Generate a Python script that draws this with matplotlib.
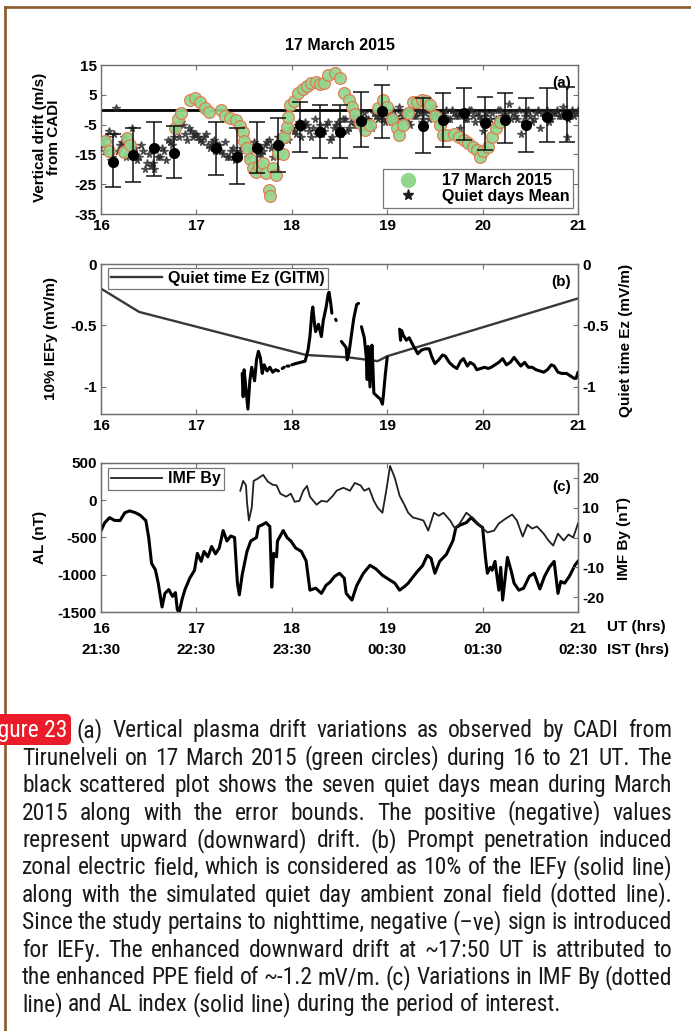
import numpy as np
import matplotlib
matplotlib.use("Agg")
import matplotlib.pyplot as plt
from matplotlib import font_manager
from matplotlib.font_manager import FontProperties
from matplotlib.patches import FancyBboxPatch
from matplotlib.lines import Line2D
from matplotlib.transforms import IdentityTransform, blended_transform_factory

# ---------------- data ----------------
hours = [16, 17, 18, 19, 20, 21]
ist_labels = ["21:30", "22:30", "23:30", "00:30", "01:30", "02:30"]

# (a) CADI vertical drift on 17 March 2015
storm_t = [16.04, 16.08, 16.24, 16.27, 16.30, 16.78, 16.81, 16.84, 16.93, 16.99,
           17.04, 17.09, 17.13, 17.26, 17.30, 17.35, 17.42, 17.46, 17.49, 17.50,
           17.53, 17.56, 17.59, 17.62, 17.66, 17.70, 17.73, 17.76, 17.77, 17.80,
           17.83, 17.86, 17.91, 17.92, 17.95, 17.96, 17.98, 18.02, 18.06, 18.12,
           18.16, 18.20, 18.25, 18.30, 18.34, 18.38, 18.45, 18.50, 18.55, 18.60,
           18.63, 18.66, 18.72, 18.77, 18.82, 18.90, 18.96, 19.00, 19.05, 19.10,
           19.12, 19.17, 19.22, 19.27, 19.31, 19.36, 19.41, 19.45, 19.50, 19.55,
           19.58, 19.63, 19.70, 19.75, 19.80, 19.85, 19.90, 19.94, 19.97, 20.00,
           20.06, 20.10, 20.14, 20.18]
storm_v = [-10.5, -13.8, -14.1, -9.6, -12.0, -6.2, -3.0, -1.0, 3.3, 3.9,
           2.6, 0.5, -0.8, -0.1, -2.0, -2.8, -3.5, -5.5, -7.5, -10.5,
           -13.0, -16.5, -19.5, -21.0, -19.0, -18.0, -21.2, -27.0, -28.8, -19.5,
           -21.8, -14.5, -15.0, -9.2, -5.8, -2.5, 1.5, 3.0, 5.6, 7.0,
           8.0, 9.0, 9.4, 8.5, 9.0, 11.6, 12.3, 10.5, 5.6, 3.3,
           1.0, -1.5, -4.5, -6.8, -5.0, 0.5, 3.3, 1.0, -3.0, -6.0,
           -8.5, -5.0, -1.0, 2.5, 2.6, 3.3, 3.0, 1.6, -2.0, -5.0,
           -8.5, -8.5, -8.0, -9.2, -10.0, -11.2, -12.5, -13.5, -15.9, -14.0,
           -12.5, -9.2, -6.1, -4.0]

# (a) quiet days mean drift (scatter): samples at 16.00, 16.04, ... 21.00
quiet_t = np.round(np.arange(16.0, 21.0001, 0.04), 2)
quiet_v = [-10, -14, -7, -16, 0.5, -12, -9, -15, -6, -13,
           -16, -14, -18, -19, -20, -16, -13, -17, -11, -9,
           -6, -4, -8, -6, -9, -8, -10, -9, -12, -11,
           -14, -12, -15, -16, -14, -17, -15, -13, -12, -14,
           -11, -13, -15, -12, -10, -16, -13, -9, -7, -10,
           -6, -8, -4, -6, -5, -9, -3, -7, -8, -5,
           -10, -6, -4, -8, -3, -6, -2, -5, -4, -1,
           -3, -6, -2, 0, -3, -1, -4, -2, 1, -3,
           -1, -5, -2, 0, -4, -1, -3, 1, -2, -5,
           -1, -3, 0, -2, -6, -1, -3, 0, -4, -2,
           -7, -1, -3, -5, 0, -2, -4, 2, -1, -3,
           -8, -2, 0, -4, -1, -6, -2, 0, -3, -1,
           -2, 1, -9, -1, -2, 0]
# interleaved samples at 16.02, 16.06, ... 20.98
quiet_t2 = np.round(np.arange(16.02, 20.99, 0.04), 2)
quiet_v2 = [-12, -9, -17, -8, -14, -11, -16, -13, -15, -17,
            -12, -20, -15, -18, -13, -16, -14, -10, -12, -7,
            -9, -5, -10, -7, -8,
            -9, -11, -8, -13, -10, -12, -14, -11, -16, -13,
            -15, -14, -12, -16, -13, -12, -15, -14, -11, -13,
            -12, -9, -11, -8, -6,
            -7, -5, -9, -4, -7, -6, -8, -5, -7, -4,
            -9, -5, -6, -3, -7, -4, -5, -2, -6, -3,
            -4, -1, -3, -2, -4,
            -2, 0, -3, -1, -2, -4, 0, -2, -1, -3,
            0, -2, -1, -4, -2, 0, -3, -1, -2, -1,
            -3, 0, -2, -1, -3,
            -2, -4, -1, -3, 0, -2, -1, -3, -2, 0,
            -4, -1, -2, -3, 0, -1, -2, -4, -1, 0,
            -2, -1, -3, 0, -1]

# (a) quiet days mean with error bounds
mean_t = [16.13, 16.34, 16.56, 16.77, 17.21, 17.43, 17.63, 17.86, 18.09, 18.30,
          18.50, 18.73, 18.95, 19.38, 19.58, 19.80, 20.03, 20.24, 20.46, 20.68, 20.88]
mean_v = [-17.6, -15.2, -12.9, -14.5, -12.9, -15.9, -12.9, -11.8, -5.1, -7.5,
          -7.5, -3.8, -0.5, -5.5, -3.5, -1.1, -4.5, -3.5, -5.1, -2.5, -1.8]
mean_lo = [-25.9, -24.3, -22.3, -22.9, -21.9, -24.9, -21.2, -20.9, -14.2, -16.2,
           -16.2, -12.5, -9.5, -14.5, -12.5, -10.2, -13.5, -11.2, -14.2, -10.9, -10.9]
mean_hi = [-8.2, -6.2, -4.1, -5.5, -4.1, -6.2, -4.1, -2.8, 2.6, 1.6,
           1.6, 5.8, 8.3, 3.9, 5.6, 7.3, 4.3, 5.6, 3.9, 7.3, 7.6]

# (b) quiet time Ez from GITM
ez_t = [16.0, 16.4, 18.15, 18.6, 18.9, 19.0, 21.0]
ez_v = [-0.20, -0.39, -0.74, -0.76, -0.79, -0.75, -0.28]

# (b) 10% IEFy (nan marks data gaps)
nan = np.nan
ief_t = [17.48, 17.49, 17.50, 17.52, 17.54, 17.56, 17.58, 17.61, 17.63, 17.65,
         17.67, 17.69, 17.71, 17.74, 17.77, 17.80, 17.83, 17.86, 17.87,
         17.90, 17.92, 17.93, 17.95, 17.97, 17.98,
         18.00, 18.04, 18.09, 18.14, 18.17, 18.19, 18.21, 18.22, 18.24, 18.25,
         18.28, 18.31, 18.33, 18.36, 18.38, 18.39, 18.41, 18.42, 18.44,
         18.46, 18.465, 18.47,
         18.52, 18.55, 18.57, 18.58, 18.60, 18.63, 18.65, 18.68, 18.70, 18.71,
         18.73, 18.76, 18.78, 18.79, 18.80, 18.82, 18.84, 18.85, 18.86, 18.90,
         18.93, 18.95, 18.96, 18.98, 19.00, 19.05,
         19.13, 19.14, 19.15, 19.17, 19.20, 19.23, 19.27, 19.30, 19.32, 19.36,
         19.40, 19.44, 19.47, 19.50, 19.54, 19.58, 19.61, 19.65, 19.69, 19.73,
         19.77, 19.80, 19.84, 19.87, 19.91, 19.94, 19.98, 20.02, 20.06, 20.09,
         20.13, 20.17, 20.21, 20.25, 20.29, 20.33, 20.36, 20.40, 20.44, 20.48,
         20.52, 20.56, 20.60, 20.64, 20.68, 20.72, 20.75, 20.79, 20.83, 20.88,
         20.92, 20.96, 20.98, 21.00]
ief_v = [-0.89, -1.08, -0.86, -1.02, -1.18, -0.95, -0.84, -0.95, -0.78, -0.71,
         -0.76, -0.89, -0.82, -0.87, -0.84, -0.88, -0.86, -0.87, nan,
         -0.85, -0.84, nan, -0.83, -0.83, nan,
         -0.82, -0.81, -0.80, -0.79, -0.70, -0.59, -0.40, -0.35, -0.50, -0.55,
         -0.49, -0.59, -0.46, -0.35, -0.25, -0.23, -0.33, -0.40, nan,
         -0.45, -0.46, nan,
         -0.63, -0.66, -0.68, -0.78, -0.72, -0.55, -0.44, -0.33, -0.32, nan,
         -0.51, -0.60, -0.75, -0.94, -0.67, -1.00, -0.66, -0.83, -1.05, -1.08,
         -1.10, -1.14, -1.07, -0.90, -0.76, nan,
         -0.53, -0.62, -0.54, -0.58, -0.62, -0.60, -0.66, -0.70, -0.73, -0.70,
         -0.69, -0.69, -0.76, -0.81, -0.78, -0.74, -0.75, -0.80, -0.83, -0.85,
         -0.79, -0.77, -0.83, -0.80, -0.82, -0.86, -0.85, -0.84, -0.85, -0.84,
         -0.82, -0.80, -0.77, -0.82, -0.80, -0.76, -0.79, -0.83, -0.80, -0.84,
         -0.84, -0.86, -0.87, -0.88, -0.86, -0.82, -0.83, -0.88, -0.89, -0.89,
         -0.91, -0.93, -0.93, -0.88]

# (c) AL index
al_t = [16.00, 16.04, 16.09, 16.14, 16.20, 16.25, 16.30, 16.36, 16.41, 16.47,
        16.50, 16.53, 16.57, 16.60, 16.64, 16.67, 16.71, 16.75, 16.78, 16.80,
        16.82, 16.85, 16.88, 16.93, 16.98, 17.01, 17.05, 17.08, 17.12, 17.16,
        17.20, 17.24, 17.28, 17.32, 17.36, 17.40, 17.43, 17.45, 17.48, 17.53,
        17.57, 17.63, 17.65, 17.69, 17.73, 17.77, 17.79, 17.81, 17.84, 17.85,
        17.91, 17.95, 17.99, 18.04, 18.10, 18.15, 18.19, 18.25, 18.31, 18.36,
        18.40, 18.45, 18.50, 18.55, 18.57, 18.63, 18.68, 18.75, 18.82, 18.88,
        18.95, 19.03, 19.08, 19.13, 19.18, 19.22, 19.27, 19.32, 19.37, 19.42,
        19.46, 19.50, 19.55, 19.62, 19.69, 19.72, 19.77, 19.83, 19.88, 19.95,
        20.00, 20.03, 20.05, 20.08, 20.10, 20.13, 20.17, 20.19, 20.21, 20.26,
        20.30, 20.33, 20.38, 20.43, 20.49, 20.54, 20.60, 20.65, 20.70, 20.75,
        20.79, 20.82, 20.86, 20.91, 20.97, 21.00]
al_v = [-407, -300, -233, -270, -273, -167, -143, -167, -200, -273,
        -500, -847, -933, -1113, -1433, -1250, -1200, -1290, -1240, -1470,
        -1500, -1330, -1200, -1047, -940, -713, -820, -687, -760, -620,
        -720, -640, -407, -547, -480, -500, -1113, -1270, -1000, -687,
        -547, -500, -353, -330, -300, -353, -1167, -713, -760, -547,
        -407, -500, -547, -640, -687, -813, -1207, -1180, -1250, -1140,
        -1100, -1020, -980, -1047, -1250, -1340, -1147, -980, -873, -920,
        -1007, -1073, -1113, -1207, -1160, -1113, -1030, -950, -880, -740,
        -780, -980, -820, -727, -540, -367, -330, -300, -233, -320,
        -367, -767, -980, -900, -940, -820, -1207, -900, -1340, -767,
        -950, -1113, -1207, -1180, -1020, -980, -1190, -1020, -900, -820,
        -1250, -1090, -1113, -1020, -867, -820]

# (c) IMF By
by_t = [17.46, 17.49, 17.52, 17.53, 17.55, 17.58, 17.60, 17.64, 17.70, 17.75,
        17.80, 17.84, 17.88, 17.94, 17.99, 18.03, 18.08, 18.12, 18.16, 18.19,
        18.26, 18.31, 18.37, 18.43, 18.47, 18.54, 18.61, 18.66, 18.72, 18.76,
        18.81, 18.86, 18.90, 18.95, 18.99, 19.03, 19.08, 19.13, 19.18, 19.22,
        19.27, 19.32, 19.38, 19.43, 19.49, 19.54, 19.59, 19.66, 19.71, 19.76,
        19.83, 19.90, 19.98, 20.05, 20.12, 20.17, 20.24, 20.31, 20.36, 20.42,
        20.47, 20.52, 20.57, 20.64, 20.69, 20.74, 20.79, 20.85, 20.90, 20.95,
        21.00]
by_v = [15.7, 19.0, 17.5, 12.0, 5.7, 10.0, 19.0, 19.7, 21.0, 18.7,
        17.7, 17.5, 14.7, 13.7, 14.7, 12.0, 12.3, 15.7, 17.3, 13.7,
        11.0, 12.3, 12.0, 14.0, 15.7, 16.7, 15.7, 18.3, 17.5, 15.7,
        16.5, 12.3, 10.0, 8.3, 15.7, 24.0, 20.0, 14.0, 11.0, 8.3,
        6.7, 6.3, 5.7, 2.3, 8.3, 7.3, 8.3, 5.7, 3.0, 4.7,
        8.3, 6.5, 3.7, 1.7, 2.3, 4.7, 6.3, 7.7, 5.7, 0.3,
        4.3, 3.0, 3.7, 1.3, -1.0, -2.7, 1.3, -1.0, 1.0, 0.0,
        4.7]

caption_lines = [
    "(a) Vertical plasma drift variations as observed by CADI from",
    "Tirunelveli on 17 March 2015 (green circles) during 16 to 21 UT. The",
    "black scattered plot shows the seven quiet days mean during March",
    "2015 along with the error bounds. The positive (negative) values",
    "represent upward (downward) drift. (b) Prompt penetration induced",
    "zonal electric field, which is considered as 10% of the IEFy (solid line)",
    "along with the simulated quiet day ambient zonal field (dotted line).",
    "Since the study pertains to nighttime, negative (\u2013ve) sign is introduced",
    "for IEFy. The enhanced downward drift at ~17:50 UT is attributed to",
    "the enhanced PPE field of ~-1.2 mV/m. (c) Variations in IMF By (dotted",
    "line) and AL index (solid line) during the period of interest.",
]
figure_tag = "Figure 23"

# ---------------- style ----------------
W, H = 691, 1031
plt.rcParams["font.family"] = ["Liberation Sans", "DejaVu Sans"]
plt.rcParams["font.weight"] = "bold"
plt.rcParams["axes.unicode_minus"] = False
FRAME = "#707070"
TICK_FS = 11
LAB_FS = 11
LEG_FS = 11.5

fig = plt.figure(figsize=(W / 100, H / 100), dpi=100, facecolor="white")


def rect(l, t, r, b):
    return [l / W, 1 - b / H, (r - l) / W, (b - t) / H]


def style_axes(ax, right=True, xpad=4):
    for s in ax.spines.values():
        s.set_color(FRAME)
        s.set_linewidth(1.0)
    ax.tick_params(direction="in", length=3.5, width=0.8, color=FRAME,
                   labelsize=TICK_FS, pad=3, top=True, right=right)
    ax.tick_params(axis="x", pad=xpad)
    ax.set_xlim(16, 21)
    ax.set_xticks(hours)


def style_twin(ax):
    for s in ax.spines.values():
        s.set_color(FRAME)
    ax.tick_params(direction="in", length=3.5, width=0.8, color=FRAME,
                   labelsize=TICK_FS, pad=3)


def ftext(x, y, s, **kw):
    return fig.text(x / W, 1 - y / H, s, **kw)


# ---------------- panel (a) ----------------
ax1 = fig.add_axes(rect(101, 65, 578, 214))
style_axes(ax1, xpad=3.5)
ax1.set_ylim(-35, 15)
ax1.set_yticks([-35, -25, -15, -5, 5, 15])
ax1.set_xticklabels([str(h) for h in hours])
ax1.axhline(0, color="black", lw=2.0, zorder=2)
for qt, qv in ((quiet_t, quiet_v), (quiet_t2, quiet_v2)):
    ax1.plot(qt, qv, linestyle="none", marker="*", ms=5.5, color="#262626",
             alpha=0.7, zorder=3)
ax1.plot(storm_t, storm_v, linestyle="none", marker="o", ms=8.5,
         mfc="#93d68e", mec="#e5764c", mew=0.9, alpha=0.92, zorder=4)
mv = np.array(mean_v)
ax1.errorbar(mean_t, mean_v, yerr=[mv - np.array(mean_lo), np.array(mean_hi) - mv],
             fmt="o", ms=7, color="black", ecolor="#111111", elinewidth=1.1,
             capsize=6, capthick=1.1, zorder=5)
star_handle = Line2D([], [], linestyle="none", marker="*", ms=8, color="#1c1c1c")
green_handle = Line2D([], [], linestyle="none", marker="o", ms=10,
                      mfc="#93d68e", mec="#93d68e")
leg1 = ax1.legend([green_handle, star_handle], ["17 March 2015", "Quiet days Mean"],
                  loc="lower right", bbox_to_anchor=(0.99, 0.04), fontsize=LEG_FS,
                  frameon=True, fancybox=False, edgecolor="#777777", framealpha=1,
                  borderpad=0.25, handletextpad=0.8, labelspacing=0.05,
                  handlelength=2.6, borderaxespad=0)
leg1.get_frame().set_linewidth(0.9)
leg1.set_zorder(10)
ax1.text(0.985, 0.88, "(a)", transform=ax1.transAxes, ha="right", va="center",
         fontsize=LAB_FS)
ftext(340, 45, "17 March 2015", ha="center", va="center", fontsize=11.5)
ftext(47, 137, "Vertical drift (m/s)\nfrom CADI", rotation=90, ha="center",
      va="center", multialignment="center", fontsize=LAB_FS, linespacing=1.0)

# ---------------- panel (b) ----------------
ax2 = fig.add_axes(rect(101, 264, 578, 414))
style_axes(ax2, right=False, xpad=3.5)
ax2.set_ylim(-1.22, 0)
ax2.set_yticks([-1, -0.5, 0])
ax2.set_yticklabels(["-1", "-0.5", "0"])
ax2.set_xticklabels([str(h) for h in hours])
ax2r = ax2.twinx()
style_twin(ax2r)
ax2r.set_ylim(-1.22, 0)
ax2r.set_yticks([-1, -0.5, 0])
ax2r.set_yticklabels(["-1", "-0.5", "0"])
ez_line, = ax2.plot(ez_t, ez_v, color="#383838", lw=1.7, label="Quiet time Ez (GITM)")
ax2.plot(ief_t, ief_v, color="black", lw=2.2, solid_capstyle="round")
leg2 = ax2.legend(handles=[ez_line], loc="upper left", bbox_to_anchor=(0.014, 0.975),
                  fontsize=LEG_FS, frameon=True, fancybox=False, edgecolor="#777777",
                  framealpha=1, borderpad=0.2, handletextpad=0.4,
                  handlelength=3.2, borderaxespad=0)
leg2.get_frame().set_linewidth(0.9)
ax2.text(0.985, 0.88, "(b)", transform=ax2.transAxes, ha="right", va="center",
         fontsize=LAB_FS)
ftext(51, 338, "10% IEFy (mV/m)", rotation=90, ha="center", va="center",
      fontsize=LAB_FS)
ftext(626, 340, "Quiet time Ez (mV/m)", rotation=90, ha="center", va="center",
      fontsize=LAB_FS)

# ---------------- panel (c) ----------------
ax3 = fig.add_axes(rect(101, 463, 578, 612))
style_axes(ax3, right=False, xpad=7)
ax3.set_ylim(-1500, 500)
ax3.set_yticks([-1500, -1000, -500, 0, 500])
ax3.set_xticklabels([str(h) for h in hours])
ax3.plot(al_t, al_v, color="black", lw=2.2, zorder=3)
ax3r = ax3.twinx()
style_twin(ax3r)
ax3r.set_ylim(-25, 25)
ax3r.set_yticks([-20, -10, 0, 10, 20])
by_line, = ax3r.plot(by_t, by_v, color="#202020", lw=1.3, label="IMF By")
leg3 = ax3r.legend(handles=[by_line], loc="upper left", bbox_to_anchor=(0.014, 0.965),
                   fontsize=LEG_FS, frameon=True, fancybox=False, edgecolor="#777777",
                   framealpha=1, borderpad=0.2, handletextpad=0.4,
                   handlelength=3.2, borderaxespad=0)
leg3.get_frame().set_linewidth(0.9)
ax3.text(0.985, 0.84, "(c)", transform=ax3.transAxes, ha="right", va="center",
         fontsize=LAB_FS)
ist_tr = blended_transform_factory(ax3.transData, fig.transFigure)
for h, lab in zip(hours, ist_labels):
    ax3.text(h, 1 - 650 / H, lab, transform=ist_tr, ha="center", va="center",
             fontsize=TICK_FS, clip_on=False)
ftext(607, 627, "UT (hrs)", ha="left", va="center", fontsize=TICK_FS)
ftext(607, 650, "IST (hrs)", ha="left", va="center", fontsize=TICK_FS)
ftext(40, 537, "AL (nT)", rotation=90, ha="center", va="center", fontsize=LAB_FS)
ftext(624, 538, "IMF By (nT)", rotation=90, ha="center", va="center",
      fontsize=LAB_FS)

# ---------------- page frame ----------------
BROWN = "#8a5a2c"
px = IdentityTransform()
fig.add_artist(Line2D([5, W], [H - 7, H - 7], color=BROWN, lw=1.9, transform=px))
fig.add_artist(Line2D([5, 5], [H - 7, 0], color=BROWN, lw=1.9, transform=px))

# ---------------- caption ----------------
names = {f.name for f in font_manager.fontManager.ttflist}
cap_family = "Liberation Sans"
for cand in ["Liberation Sans Narrow", "Arial Narrow", "Roboto Condensed",
             "Open Sans Condensed", "Noto Sans Condensed"]:
    if cand in names:
        cap_family = cand
        break

renderer = fig.canvas.get_renderer()


def width(s, fp):
    return renderer.get_text_width_height_descent(s, fp, ismath=False)[0]


X_LEFT, X_RIGHT, X_FIRST = 22, 672, 77
Y_FIRST, LINE_H = 729, 27.4
starts = [X_FIRST] + [X_LEFT] * (len(caption_lines) - 1)

fp_ref = FontProperties(family=cap_family, size=10, weight="normal")
ratios = []
for i, line in enumerate(caption_lines[:-1]):
    words = line.split()
    nat = sum(width(w, fp_ref) for w in words) + (len(words) - 1) * width(" ", fp_ref) * 0.95
    ratios.append((X_RIGHT - starts[i]) / nat)
cap_size = 10 * min(ratios)
fp = FontProperties(family=cap_family, size=cap_size, weight="normal")
asc = cap_size * 100 / 72 * 0.36

for i, line in enumerate(caption_lines):
    words = line.split()
    ws = [width(w, fp) for w in words]
    y = H - (Y_FIRST + i * LINE_H) - asc
    if i < len(caption_lines) - 1:
        gap = (X_RIGHT - starts[i] - sum(ws)) / (len(words) - 1)
    else:
        gap = width(" ", fp)
    x = starts[i]
    for w, wd in zip(words, ws):
        fig.text(x, y, w, transform=px, fontproperties=fp, color="#1a1a1a",
                 ha="left", va="baseline")
        x += wd + gap

# figure tag box (runs off the left page edge)
tag_top, tag_h = Y_FIRST - 15, 31
fig.add_artist(FancyBboxPatch((-12, H - tag_top - tag_h), 83, tag_h,
                              boxstyle="round,pad=0,rounding_size=5",
                              facecolor="#ea1c2a", edgecolor="none", transform=px,
                              zorder=5))
fig.text(67, H - Y_FIRST - asc, figure_tag, transform=px, fontproperties=fp,
         color="white", ha="right", va="baseline", zorder=6)

fig.savefig("out.png", dpi=100, facecolor="white")
